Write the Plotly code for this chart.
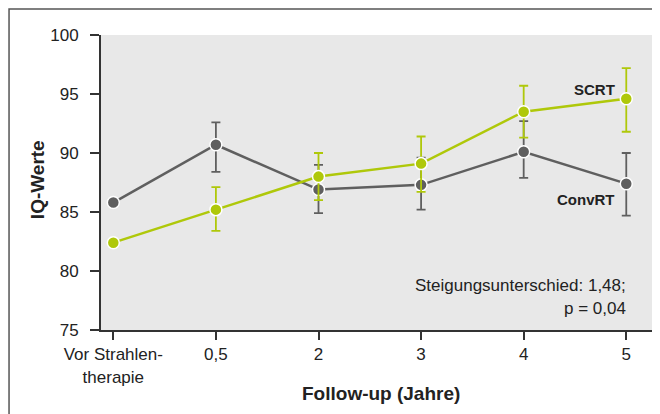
import plotly.graph_objects as go

categories = ["Vor Strahlen-<br>therapie", "0,5", "2", "3", "4", "5"]
convrt = [85.8, 90.7, 86.9, 87.3, 90.1, 87.4]
convrt_err_plus = [0, 1.9, 2.1, 2.3, 2.6, 2.6]
convrt_err_minus = [0, 2.3, 2.0, 2.1, 2.2, 2.7]
scrt = [82.4, 85.2, 88.0, 89.1, 93.5, 94.6]
scrt_err_plus = [0, 1.9, 2.0, 2.3, 2.2, 2.6]
scrt_err_minus = [0, 1.8, 2.0, 2.4, 2.2, 2.8]
y_ticks = [75, 80, 85, 90, 95, 100]

GREEN = "#afc80a"
GRAY = "#5f5f5f"
xs = list(range(len(categories)))

fig = go.Figure()
fig.add_trace(go.Scatter(
    x=xs, y=convrt, mode="lines+markers",
    line=dict(color=GRAY, width=2.5),
    marker=dict(size=12, color=GRAY, line=dict(color="white", width=1.5)),
    error_y=dict(type="data", symmetric=False, array=convrt_err_plus,
                 arrayminus=convrt_err_minus, color=GRAY, thickness=1.8, width=4.5),
    showlegend=False))
fig.add_trace(go.Scatter(
    x=xs, y=scrt, mode="lines+markers",
    line=dict(color=GREEN, width=2.5),
    marker=dict(size=12, color=GREEN, line=dict(color="white", width=1.5)),
    error_y=dict(type="data", symmetric=False, array=scrt_err_plus,
                 arrayminus=scrt_err_minus, color=GREEN, thickness=1.8, width=4.5),
    showlegend=False))

REG = "Liberation Sans, Arial, sans-serif"
fig.update_layout(
    width=652, height=406,
    margin=dict(l=93, r=5, t=27, b=84),
    plot_bgcolor="#e8e8e8", paper_bgcolor="white",
    font=dict(family=REG, size=17, color="#222"),
    xaxis=dict(range=[-0.12, 5.28], tickvals=xs, ticktext=categories,
               showgrid=False, zeroline=False, showline=True, linecolor="#333",
               linewidth=2, ticks="outside", ticklen=8, tickwidth=1.5, tickcolor="#333",
               tickfont=dict(family=REG, size=17, color="#222")),
    yaxis=dict(range=[75, 100], tickvals=y_ticks, showgrid=False, zeroline=False,
               showline=True, linecolor="#333", linewidth=2, ticks="outside",
               ticklen=9, tickwidth=1.5, tickcolor="#333", ticklabelstandoff=8,
               tickfont=dict(family=REG, size=17, color="#222")),
)

fig.add_shape(type="rect", xref="paper", yref="paper", x0=-0.166, y0=-0.5,
              x1=1.2, y1=1.088, line=dict(color="#555", width=1.5), layer="below")

fig.add_annotation(text="<b>Follow-up (Jahre)</b>", xref="paper", yref="paper",
                   x=0.505, y=-0.2136, xanchor="center", yanchor="middle", showarrow=False,
                   font=dict(family=REG, size=19, color="#222"))
fig.add_annotation(text="<b>IQ-Werte</b>", xref="paper", yref="paper",
                   x=-0.1155, y=0.508, xanchor="center", yanchor="middle", showarrow=False,
                   textangle=-90, font=dict(family=REG, size=19, color="#222"))
fig.add_annotation(text="<b>SCRT</b>", x=4.91, y=95.36, xanchor="right", yanchor="middle",
                   showarrow=False, font=dict(family=REG, size=15, color="#222"))
fig.add_annotation(text="<b>ConvRT</b>", x=4.91, y=86.04, xanchor="right", yanchor="middle",
                   showarrow=False, font=dict(family=REG, size=15, color="#222"))
fig.add_annotation(text="Steigungsunterschied: 1,48;", x=5.02, y=78.81, xanchor="right",
                   yanchor="middle", showarrow=False, font=dict(family=REG, size=17, color="#222"))
fig.add_annotation(text="p = 0,04", x=5.02, y=76.86, xanchor="right",
                   yanchor="middle", showarrow=False, font=dict(family=REG, size=17, color="#222"))

fig.write_html("out.html")
